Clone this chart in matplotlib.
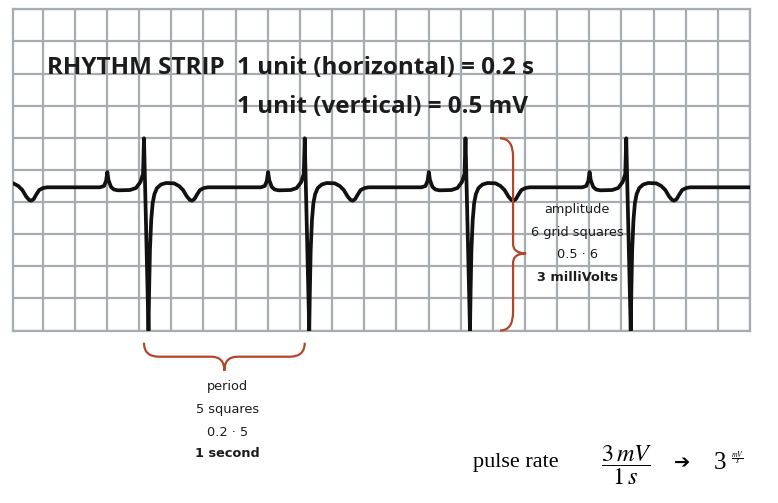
import numpy as np
import matplotlib
matplotlib.use('Agg')
import matplotlib.pyplot as plt
from matplotlib.path import Path
from matplotlib.patches import PathPatch
from matplotlib.ticker import MultipleLocator

beat_t = [-0.274, -0.249, -0.236, -0.228, -0.221, -0.205, -0.187, -0.162, -0.087,
          -0.050, -0.022, -0.006, 0.000, 0.028, 0.032, 0.037, 0.045, 0.054, 0.065,
          0.081, 0.106, 0.137, 0.187, 0.218, 0.243, 0.267, 0.286, 0.299, 0.314,
          0.330, 0.348, 0.373, 0.398]
beat_mv = [2.229, 2.249, 2.327, 2.467, 2.343, 2.234, 2.195, 2.182, 2.187,
           2.218, 2.312, 2.436, 2.992, 0.000, 0.630, 1.253, 1.720, 1.985, 2.125,
           2.218, 2.273, 2.296, 2.291, 2.249, 2.187, 2.086, 2.031, 2.021, 2.047,
           2.117, 2.187, 2.218, 2.229]
r_peaks = [-0.17, 0.83, 1.83, 2.83, 3.83]
strip_range = (0.012, 4.6)
baseline_mv = 2.229

grid_col = '#a6adb1'
brace_col = '#b3452b'
ink = '#1c1c1c'

fig = plt.figure(figsize=(7.78, 5.03), dpi=100)
ax = fig.add_axes([12.5 / 778, 1 - 330.5 / 503, 737.5 / 778, 321.2 / 503])
ax.set_xlim(*strip_range)
ax.set_ylim(0, 5)
ax.xaxis.set_major_locator(MultipleLocator(0.2))
ax.yaxis.set_major_locator(MultipleLocator(0.5))
ax.tick_params(length=0, labelbottom=False, labelleft=False)
ax.grid(True, color=grid_col, lw=1.6)
for s in ax.spines.values():
    s.set_color(grid_col)
    s.set_linewidth(1.6)

# trace
t_all, v_all = [], []
for r in r_peaks:
    t_all += [r + t for t in beat_t]
    v_all += beat_mv
t_all.append(strip_range[1])
v_all.append(baseline_mv)
ax.plot(t_all, v_all, color='#111111', lw=2.7, solid_joinstyle='round',
        solid_capstyle='round', zorder=3)


def brace(a0, a1, am, c0, h, q_end, q_tip, vertical=False):
    pts = [(a0, c0),
           (a0, c0 + h), (a0 + q_end, c0 + h),
           (am - q_tip, c0 + h),
           (am, c0 + h), (am, c0 + 2 * h),
           (am, c0 + h), (am + q_tip, c0 + h),
           (a1 - q_end, c0 + h),
           (a1, c0 + h), (a1, c0)]
    codes = [Path.MOVETO, Path.CURVE3, Path.CURVE3, Path.LINETO,
             Path.CURVE3, Path.CURVE3, Path.CURVE3, Path.CURVE3,
             Path.LINETO, Path.CURVE3, Path.CURVE3]
    if vertical:
        pts = [(c, a) for a, c in pts]
    patch = PathPatch(Path(pts, codes), fill=False, edgecolor=brace_col, lw=1.6,
                      clip_on=False, zorder=4)
    ax.add_patch(patch)


# period brace between two R peaks
brace(r_peaks[1], r_peaks[2], (r_peaks[1] + r_peaks[2]) / 2, -0.19, -0.218,
      0.093, 0.081)
# amplitude brace from S trough to R peak
brace(min(beat_mv), max(beat_mv), 1.2, 3.045, 0.081, 0.29, 0.15, vertical=True)

# titles
title_kw = dict(family='Open Sans', weight='bold', fontsize=17.5, color=ink,
                va='baseline', ha='left')
ax.text(0.225, 3.993, 'RHYTHM STRIP', **title_kw)
ax.text(1.407, 3.993, '1 unit (horizontal) = 0.2 s', **title_kw)
ax.text(1.407, 3.386, '1 unit (vertical) = 0.5 mV', **title_kw)

# period notes
for y, s, w in [(-0.875, 'period', 'normal'), (-1.222, '5 squares', 'normal'),
                (-1.591, '0.2 · 5', 'normal'), (-1.922, '1 second', 'bold')]:
    ax.text(1.351, y, s, fontsize=9.3, weight=w, color=ink, ha='center',
            va='center', clip_on=False)

# amplitude notes
for y, s, w in [(1.876, 'amplitude', 'normal'), (1.522, '6 grid squares', 'normal'),
                (1.186, '0.5 · 6', 'normal'), (0.828, '3 milliVolts', 'bold')]:
    ax.text(3.526, y, s, fontsize=9.3, weight=w, color=ink, ha='center',
            va='center', zorder=5)

# pulse rate
plt.rcParams['mathtext.fontset'] = 'stix'
fig.text(473 / 778, 1 - 463 / 503, 'pulse rate', family='Liberation Serif',
         fontsize=16, color='black', ha='left', va='center')
fig.text(626.7 / 778, 1 - 465 / 503, r'$\dfrac{3\,mV}{1\,s}$', fontsize=17.5,
         color='black', ha='center', va='center')
fig.text(682 / 778, 1 - 463 / 503, '➔', family='DejaVu Sans', fontsize=14,
         color='black', ha='center', va='center')
fig.text(714 / 778, 1 - 463 / 503, '3', family='Liberation Serif', fontsize=18,
         color='black', ha='left', va='center')
fig.text(731 / 778, 1 - 459 / 503, r'$\frac{mV}{s}$', fontsize=8,
         color='black', ha='left', va='center')

plt.savefig('out.png', dpi=100)
